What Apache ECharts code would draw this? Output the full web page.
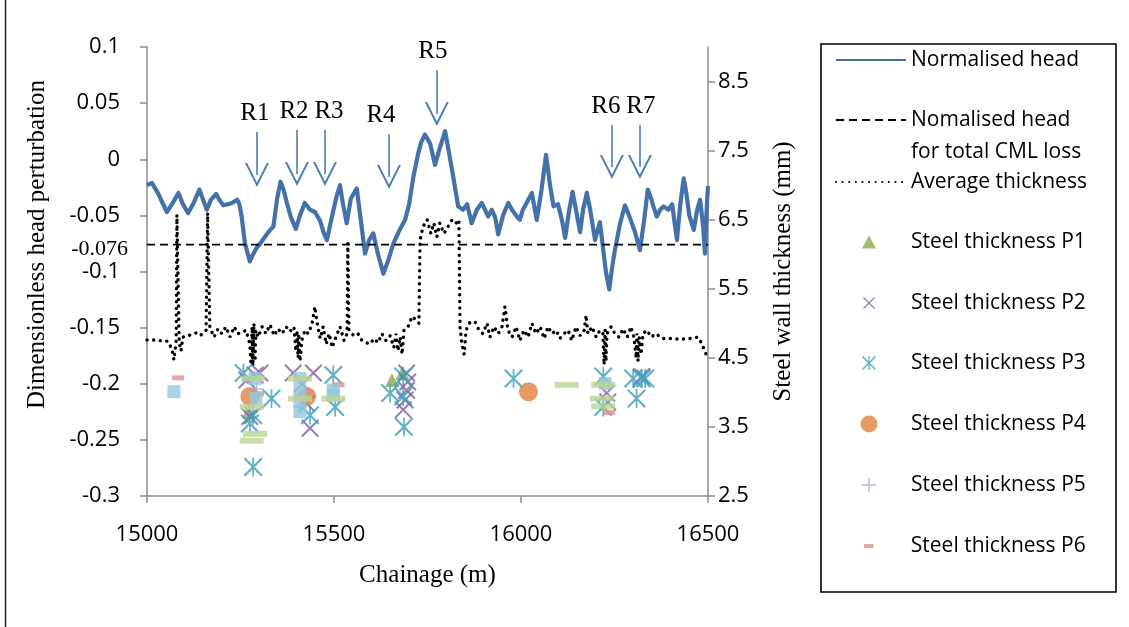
<!DOCTYPE html>
<html><head><meta charset="utf-8">
<script src="https://cdn.jsdelivr.net/npm/echarts@6/dist/echarts.min.js"></script>
<style>html,body{margin:0;padding:0;background:#fff}#c{width:1129px;height:627px}</style>
</head><body><div id="c"></div>
<script>
// ---------------- data ----------------
const normalisedHead = [
[15000,-0.023],[15013,-0.021],[15029,-0.030],[15053,-0.047],[15067,-0.040],[15084,-0.030],[15096,-0.040],[15110,-0.048],
[15126,-0.038],[15140,-0.027],[15150,-0.036],[15160,-0.045],[15171,-0.036],[15185,-0.031],[15195,-0.037],[15204,-0.041],
[15217,-0.040],[15227,-0.039],[15241,-0.036],[15247,-0.040],[15253,-0.051],[15262,-0.075],[15275,-0.091],[15283,-0.085],
[15293,-0.079],[15305,-0.074],[15320,-0.067],[15329,-0.063],[15338,-0.060],[15348,-0.035],[15357,-0.020],[15365,-0.027],
[15374,-0.039],[15385,-0.052],[15398,-0.062],[15409,-0.050],[15422,-0.039],[15436,-0.045],[15449,-0.047],[15463,-0.055],
[15473,-0.066],[15481,-0.072],[15492,-0.055],[15507,-0.033],[15516,-0.023],[15524,-0.040],[15534,-0.057],[15545,-0.035],
[15561,-0.026],[15570,-0.050],[15583,-0.084],[15594,-0.072],[15605,-0.066],[15618,-0.085],[15632,-0.102],[15645,-0.090],
[15659,-0.075],[15674,-0.064],[15690,-0.054],[15701,-0.040],[15712,-0.016],[15725,0.005],[15733,0.015],[15743,0.022],
[15757,0.014],[15770,-0.005],[15783,0.010],[15797,0.025],[15808,0.005],[15819,-0.016],[15832,-0.042],[15845,-0.045],
[15856,-0.040],[15868,-0.057],[15882,-0.045],[15895,-0.039],[15904,-0.045],[15912,-0.051],[15922,-0.045],[15931,-0.052],
[15939,-0.067],[15952,-0.050],[15966,-0.039],[15976,-0.045],[15989,-0.051],[15997,-0.054],[16005,-0.045],[16015,-0.039],
[16029,-0.030],[16042,-0.054],[16055,-0.027],[16067,0.004],[16078,-0.024],[16087,-0.042],[16099,-0.040],[16110,-0.055],
[16118,-0.070],[16129,-0.045],[16138,-0.029],[16147,-0.045],[16158,-0.065],[16166,-0.045],[16176,-0.030],[16185,-0.045],
[16198,-0.072],[16211,-0.056],[16220,-0.081],[16227,-0.100],[16236,-0.116],[16243,-0.098],[16251,-0.081],[16265,-0.057],
[16278,-0.041],[16291,-0.052],[16305,-0.065],[16318,-0.081],[16329,-0.055],[16339,-0.027],[16348,-0.035],[16354,-0.042],
[16363,-0.051],[16372,-0.045],[16381,-0.042],[16394,-0.045],[16404,-0.040],[16417,-0.072],[16426,-0.040],[16435,-0.017],
[16442,-0.030],[16450,-0.050],[16462,-0.063],[16471,-0.045],[16479,-0.036],[16487,-0.060],[16492,-0.084],[16497,-0.040],
[16500,-0.024]
];
const cmlLossLevel = -0.076;
const chainageRange = [15000, 16500];
const averageThickness = [
[15000,4.76],[15013,4.76],[15035,4.75],[15056,4.74],[15067,4.62],[15072,4.47],[15078,4.75],[15080,6.57],[15084,6.57],
[15086,4.72],[15091,4.60],[15096,4.80],[15115,4.83],[15131,4.86],[15142,4.82],[15158,4.90],[15162,6.60],[15166,6.60],
[15168,4.95],[15179,4.80],[15190,4.92],[15200,4.85],[15211,4.95],[15222,4.80],[15233,4.95],[15243,4.85],[15254,4.87],
[15265,4.90],[15275,4.70],[15278,4.40],[15281,4.95],[15283,4.38],[15286,5.00],[15289,4.45],[15291,4.90],[15297,4.80],
[15308,4.95],[15318,4.85],[15329,4.98],[15340,4.82],[15350,4.92],[15361,4.85],[15372,4.95],[15382,4.88],[15393,4.95],
[15398,4.60],[15401,4.90],[15404,4.50],[15406,4.85],[15409,4.45],[15414,4.75],[15422,4.90],[15431,4.85],[15441,4.98],
[15449,5.24],[15455,5.00],[15463,4.78],[15471,4.95],[15479,4.70],[15487,4.85],[15495,4.65],[15505,4.80],[15516,4.95],
[15527,4.75],[15535,4.85],[15537,6.16],[15539,6.16],[15540,4.90],[15553,4.82],[15564,4.85],[15575,4.75],[15586,4.72],
[15596,4.70],[15607,4.78],[15618,4.72],[15628,4.85],[15639,4.75],[15650,4.82],[15660,4.65],[15666,4.85],[15671,4.60],
[15677,4.80],[15682,4.55],[15687,4.90],[15698,4.95],[15709,5.10],[15719,5.05],[15727,5.00],[15730,6.20],[15738,6.40],
[15749,6.50],[15759,6.30],[15767,6.45],[15775,6.25],[15783,6.45],[15794,6.30],[15805,6.40],[15816,6.50],[15826,6.45],
[15834,6.50],[15837,4.95],[15842,4.70],[15848,4.55],[15853,4.90],[15864,5.02],[15877,5.02],[15888,4.90],[15898,4.85],
[15909,5.00],[15917,4.80],[15928,4.95],[15939,4.85],[15949,4.95],[15957,5.24],[15965,4.90],[15976,4.80],[15987,4.95],
[15997,4.75],[16008,4.90],[16019,4.80],[16029,5.00],[16040,4.85],[16051,4.95],[16062,4.78],[16072,4.95],[16083,4.85],
[16094,4.90],[16104,4.78],[16115,4.85],[16126,4.90],[16136,4.75],[16147,4.95],[16158,4.82],[16169,4.90],[16174,5.12],
[16179,4.85],[16190,4.95],[16201,4.80],[16211,4.90],[16219,4.85],[16222,4.40],[16225,4.90],[16227,4.45],[16230,4.85],
[16241,4.95],[16251,4.85],[16262,4.80],[16273,4.92],[16284,4.80],[16294,4.95],[16302,4.80],[16308,4.50],[16310,4.85],
[16313,4.45],[16316,4.80],[16321,4.55],[16326,4.85],[16337,4.90],[16348,4.80],[16361,4.85],[16377,4.78],[16398,4.78],
[16425,4.77],[16452,4.78],[16473,4.80],[16484,4.70],[16495,4.55],[16500,4.62]
];
const steelP1 = [[15272,3.72],[15655,4.18],[15683,4.28]];
const steelP2 = [[15302,4.28],[15267,4.18],[15275,3.65],[15289,4.25],[15391,4.28],[15445,4.28],[15436,3.48],[15427,3.84],
  [15415,4.12],[15694,4.28],[15694,4.03],[15690,3.89],[15685,3.75],[15697,4.15],[16229,3.99],[16232,3.86],[16323,4.23]];
const steelP3 = [[15258,4.28],[15284,3.67],[15284,2.92],[15333,3.91],[15275,3.55],[15436,3.67],[15498,4.25],[15503,3.79],
  [15650,3.99],[15685,4.23],[15685,3.94],[15687,3.50],[15980,4.20],[16220,4.23],[16220,3.79],[16300,4.20],[16323,4.20],
  [16332,4.20],[16309,3.91]];
const steelP4 = [[15275,3.94],[15427,3.94],[16020,4.01]];
const steelP5 = [[15409,3.80],[15293,4.05]];
const steelP6 = [[15083,4.21],[15297,3.98],[15427,4.01],[15512,4.11],[16236,3.71]];
const steelP7 = [[15072,4.01],[15289,4.20],[15291,3.91],[15409,4.20],[15409,4.01],[15409,3.87],[15409,3.72],[15498,4.03],
  [15498,3.96],[16225,4.13]];
const steelP8 = [[15283,4.20],[15280,3.79],[15289,3.40],[15280,3.30],[15409,4.20],[15409,3.91],[15498,3.91],[16122,4.11],
  [16220,4.11],[16216,3.91],[16220,3.80]];
const rightTicks = [2.5,3.5,4.5,5.5,6.5,7.5,8.5];
// annotations (R1..R7 arrows): chainage, arrow top, arrow end (head-axis units)
const regionNames = ['R1','R2','R3','R4','R5','R6','R7'];
const regionChainage = [15294,15401,15476,15647,15775,16243,16318];
const arrowTop = [0.0243,0.026,0.026,0.0225,0.0795,0.0305,0.0305];
const arrowEnd = [-0.0140,-0.0131,-0.0131,-0.0158,0.0403,-0.0069,-0.0069];
const labelShift = [-2,-3,4,-8,-4,-6,1];

// ---------------- chart ----------------
const serif = 'Liberation Serif';
const sans = 'Open Sans';
const axisGrey = '#8c8c8c';
const xPath = 'M0,1.6 L1.6,0 L10,8.4 L18.4,0 L20,1.6 L11.6,10 L20,18.4 L18.4,20 L10,11.6 L1.6,20 L0,18.4 L8.4,10 Z';
const symX = 'path://' + xPath;
const symStar = 'path://' + xPath + ' M9.1,0 L10.9,0 L10.9,20 L9.1,20 Z';
const symPlus = 'path://M9,0 L11,0 L11,9 L20,9 L20,11 L11,11 L11,20 L9,20 L9,11 L0,11 L0,9 L9,9 Z';
const symDash = 'path://M0,0 L12,0 L12,5 L0,5 Z';
const arrowPath = 'path://M10,0 L20,18 L18.2,18 L10,3.4 L1.8,18 L0,18 Z';

const legendText = {fontFamily: sans, fontSize: 21, color: '#000', lineHeight: 24};
function lgLine(name, cy, extra) {
  return Object.assign({data: [name], left: 835, top: cy - 12, itemWidth: 70, itemHeight: 14,
    padding: 0, textStyle: legendText, selectedMode: false, orient: 'vertical',
    itemStyle: {opacity: 0}}, extra || {});
}
function lgSym(name, cy, w, h) {
  const left = 869 - w / 2;
  return {data: [name], left: left, top: cy - 12, itemWidth: w, itemHeight: h,
    padding: 0, selectedMode: false, orient: 'vertical',
    textStyle: Object.assign({}, legendText, {padding: [0, 0, 0, 911 - (left + w + 5)]})};
}

const chart = echarts.init(document.getElementById('c'), null, {renderer: 'canvas'});
const arrowData = regionNames.map((n, i) => [
  {name: n, coord: [regionChainage[i], arrowTop[i]],
   label: {padding: labelShift[i] >= 0 ? [0, 0, 0, 2 * labelShift[i]] : [0, -2 * labelShift[i], 0, 0]}},
  {coord: [regionChainage[i], arrowEnd[i]]}
]);

chart.setOption({
  animation: false,
  textStyle: {fontFamily: sans},
  grid: {left: 147, top: 47, width: 561, height: 449},
  xAxis: {
    type: 'value', min: chainageRange[0], max: chainageRange[1], interval: 500,
    axisLine: {show: true, onZero: false, lineStyle: {color: axisGrey, width: 1.5}},
    axisTick: {show: true, length: 7, lineStyle: {color: axisGrey, width: 1.5}},
    axisLabel: {margin: 28, fontFamily: sans, fontSize: 22, color: '#000', formatter: v => String(v)},
    splitLine: {show: false},
    name: 'Chainage (m)', nameLocation: 'middle', nameGap: 67,
    nameTextStyle: {fontFamily: serif, fontSize: 25, color: '#000'}
  },
  yAxis: [{
    type: 'value', min: -0.3, max: 0.1, interval: 0.05, position: 'left',
    axisLine: {show: true, onZero: false, lineStyle: {color: axisGrey, width: 1.5}},
    axisTick: {show: true, length: 7, lineStyle: {color: axisGrey, width: 1.5}},
    axisLabel: {margin: 27, fontFamily: sans, fontSize: 22, color: '#000'},
    splitLine: {show: false},
    name: 'Dimensionless head perturbation', nameLocation: 'middle', nameGap: 97,
    nameTextStyle: {fontFamily: serif, fontSize: 25, color: '#000', padding: [0, 0, 0, 54]}
  }, {
    type: 'value', min: 2.5, max: 9, interval: 1, position: 'right',
    axisLine: {show: true, onZero: false, lineStyle: {color: axisGrey, width: 1.5}},
    axisTick: {show: true, length: 7, customValues: rightTicks, lineStyle: {color: axisGrey, width: 1.5}},
    axisLabel: {margin: 10, customValues: rightTicks, fontFamily: sans, fontSize: 22, color: '#000'},
    splitLine: {show: false},
    name: 'Steel wall thickness (mm)', nameLocation: 'middle', nameRotate: 90, nameGap: 63,
    nameTextStyle: {fontFamily: serif, fontSize: 25, color: '#000'}
  }],
  legend: [
    lgLine('Normalised head', 60),
    lgLine('Nomalised head for total CML loss', 120, {formatter: () => 'Nomalised head'}),
    lgLine('Average thickness', 182),
    lgSym('Steel thickness P1', 242, 14, 13),
    lgSym('Steel thickness P2', 303, 12, 12),
    lgSym('Steel thickness P3', 363, 14, 14),
    lgSym('Steel thickness P4', 424, 17, 17),
    lgSym('Steel thickness P5', 485, 14, 14),
    lgSym('Steel thickness P6', 546, 10, 4)
  ],
  graphic: [
    {type: 'rect', shape: {x: 821, y: 44, width: 295, height: 548}, style: {fill: 'none', stroke: '#000', lineWidth: 1.6}, silent: true},
    {type: 'text', x: 911, y: 152, style: {text: 'for total CML loss', font: '21px "Open Sans"', fill: '#000', verticalAlign: 'middle'}, silent: true},
    {type: 'line', shape: {x1: 5.5, y1: 0, x2: 5.5, y2: 627}, style: {stroke: '#222', lineWidth: 1.5}, silent: true}
  ],
  series: [
    {
      name: 'Average thickness', type: 'line', yAxisIndex: 1, data: averageThickness,
      symbol: 'none', showSymbol: false, z: 2,
      lineStyle: {color: '#000', width: 3.4, type: [0.1, 6.5], cap: 'round'}
    },
    {
      name: 'Normalised head', type: 'line', yAxisIndex: 0, data: normalisedHead,
      symbol: 'none', showSymbol: false, z: 3,
      lineStyle: {color: '#4571AB', width: 4.2, join: 'round'},
      markLine: {
        silent: true, symbol: ['none', arrowPath], symbolSize: 24,
        lineStyle: {color: '#4A7EBB', width: 1.6, type: 'solid'},
        label: {show: true, position: 'start', formatter: '{b}', distance: 6,
          fontFamily: serif, fontSize: 25, color: '#000'},
        emphasis: {disabled: true},
        data: arrowData
      }
    },
    {
      name: 'Nomalised head for total CML loss', type: 'line', yAxisIndex: 0,
      data: [[chainageRange[0], cmlLossLevel], [chainageRange[1], cmlLossLevel]],
      symbol: 'none', showSymbol: false, z: 3,
      lineStyle: {color: '#000', width: 1.8, type: [8, 5]},
      markLine: {
        silent: true, symbol: 'none', lineStyle: {color: 'rgba(0,0,0,0)', width: 1},
        label: {show: true, position: 'start', formatter: String(cmlLossLevel), distance: 19,
          fontFamily: serif, fontSize: 22, color: '#000'},
        emphasis: {disabled: true},
        data: [{yAxis: cmlLossLevel}]
      }
    },
    {name: 'Steel thickness P1', type: 'scatter', yAxisIndex: 1, data: steelP1, symbol: 'triangle', symbolSize: 14, itemStyle: {color: '#8BAA4F'}, z: 4},
    {name: 'Steel thickness P2', type: 'scatter', yAxisIndex: 1, data: steelP2, symbol: symX, symbolSize: 18, itemStyle: {color: '#7D5FA0'}, z: 4},
    {name: 'Steel thickness P3', type: 'scatter', yAxisIndex: 1, data: steelP3, symbol: symStar, symbolSize: 19, itemStyle: {color: '#3C9DB6'}, z: 4},
    {name: 'Steel thickness P4', type: 'scatter', yAxisIndex: 1, data: steelP4, symbol: 'circle', symbolSize: 19, itemStyle: {color: '#E0823D'}, z: 4},
    {name: 'Steel thickness P5', type: 'scatter', yAxisIndex: 1, data: steelP5, symbol: symPlus, symbolSize: 14, itemStyle: {color: '#93ADD6'}, z: 4},
    {name: 'Steel thickness P6', type: 'scatter', yAxisIndex: 1, data: steelP6, symbol: symDash, symbolSize: [12, 5], itemStyle: {color: '#D99593'}, z: 4},
    {name: 'Steel thickness P7', type: 'scatter', yAxisIndex: 1, data: steelP7, symbol: 'rect', symbolSize: 13, itemStyle: {color: '#94C8DC'}, z: 4},
    {name: 'Steel thickness P8', type: 'scatter', yAxisIndex: 1, data: steelP8, symbol: 'rect', symbolSize: [24, 6], itemStyle: {color: '#BDD395'}, z: 4}
  ]
});
</script>
</body></html>
